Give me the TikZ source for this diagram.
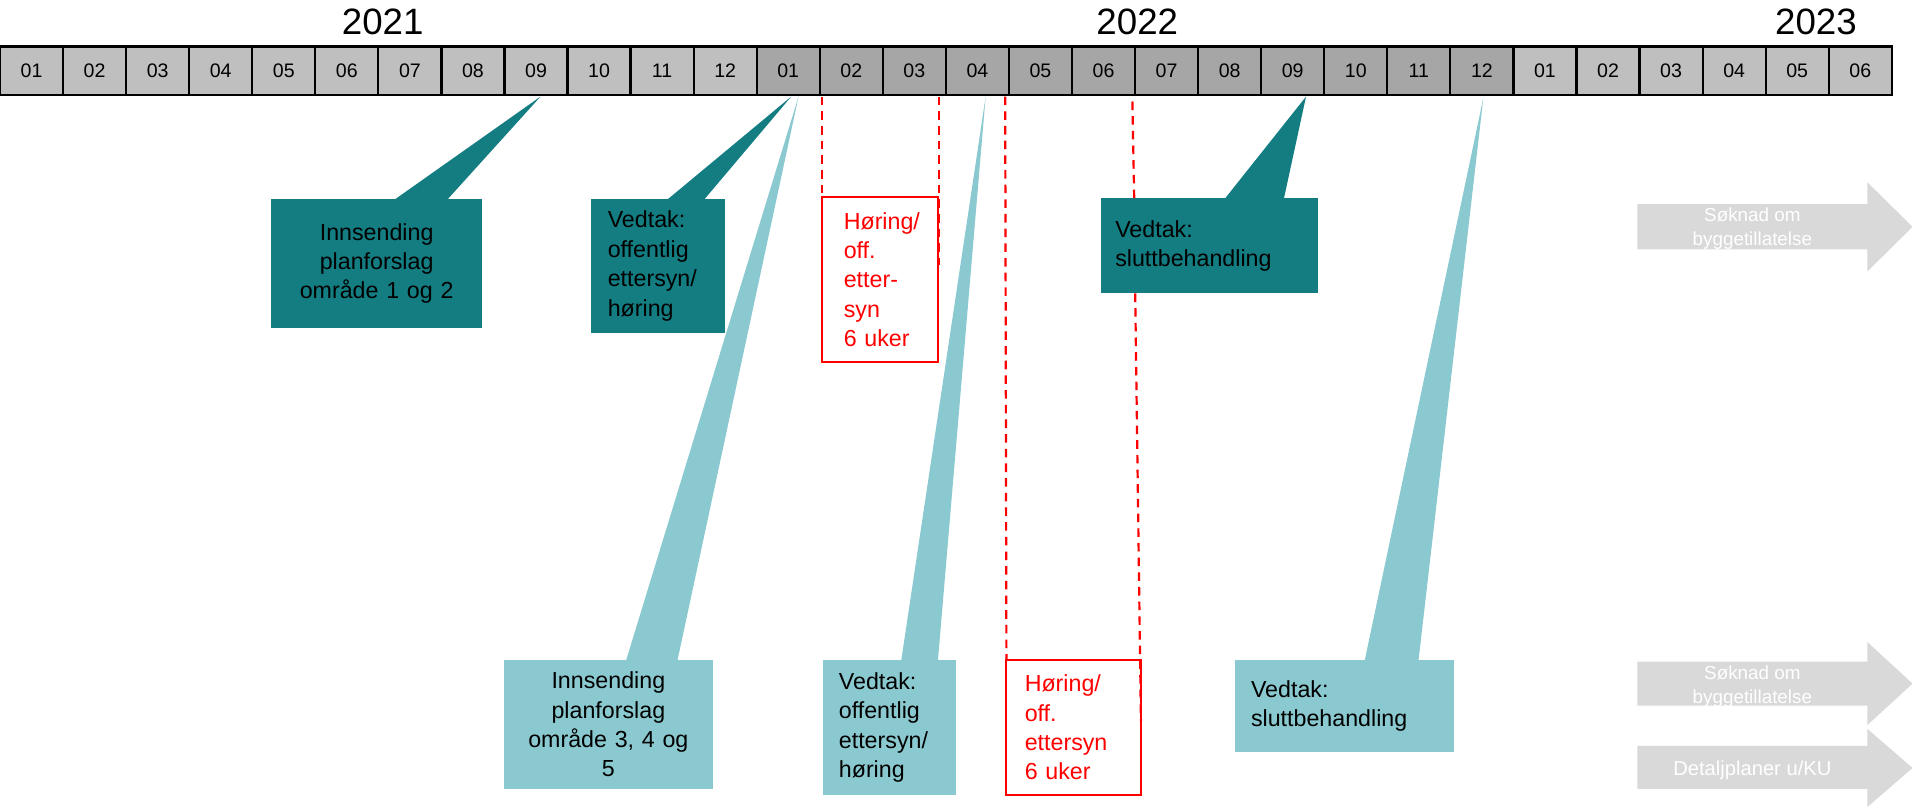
\documentclass[tikz,border=0pt]{standalone}
\usepackage{fontspec}
\setmainfont{Liberation Sans}
\usetikzlibrary{calc}
\definecolor{lightcell}{HTML}{BFBFBF}
\definecolor{darkcell}{HTML}{A6A6A6}
\definecolor{darkteal}{HTML}{137D82}
\definecolor{lightteal}{HTML}{8AC9CF}
\definecolor{arrowgray}{HTML}{D9D9D9}
\definecolor{hred}{HTML}{FF0000}
\tikzset{
  cell/.style={draw=black, line width=1.8pt, minimum width=51.567pt, minimum height=40pt, inner sep=0pt, outer sep=0pt, font=\fontsize{16}{18}\selectfont},
  year/.style={font=\fontsize{30}{34}\selectfont, inner sep=0pt},
  boxtext/.style={font=\fontsize{19}{24}\selectfont, inner ysep=0pt, outer sep=0pt, anchor=north west},
  darkbox/.style={boxtext, fill=darkteal, text=black},
  lightbox/.style={boxtext, fill=lightteal, text=black},
  redbox/.style={boxtext, draw=hred, line width=1.6pt, text=hred},
  reddash/.style={draw=hred, line width=1.8pt, dash pattern=on 7pt off 5pt},
  arrowtext/.style={text=white, font=\fontsize{15.4}{20}\selectfont, inner sep=0pt, anchor=base},
}
\newcommand{\arrowshapeA}{(1339,167) -- (1527,167) -- (1527,149) -- (1564,185.5) -- (1527,222) -- (1527,204) -- (1339,204) -- cycle}
\newcommand{\arrowshapeB}{(1339,541) -- (1527,541) -- (1527,525) -- (1564,559) -- (1527,593) -- (1527,577) -- (1339,577) -- cycle}
\newcommand{\arrowshapeC}{(1339,610) -- (1527,610) -- (1527,596) -- (1564,628) -- (1527,660) -- (1527,645) -- (1339,645) -- cycle}
\begin{document}
\begin{tikzpicture}[x=1pt,y=-1pt]
\useasboundingbox (0,0) rectangle (1566,663);

% years
\node[year] (y2021) at (313,18) {2021};
\node[year] (y2022) at (930,18) {2022};
\node[year] (y2023) at (1485,18) {2023};

% dashed line coordinates
\coordinate (d1a) at (672,79);
\coordinate (d2a) at (768,79);
\coordinate (d2b) at (768,217);
\coordinate (d3a) at (822,79);
\coordinate (d4a) at (926,83);
\coordinate (d4b) at (933,590);

% month cells
\foreach \i/\m in {0/01,1/02,2/03,3/04,4/05,5/06,6/07,7/08,8/09,9/10,10/11,11/12,24/01,25/02,26/03,27/04,28/05,29/06}{
  \node[cell, fill=lightcell] (c\i) at ({\i*51.567+25.783},58) {\m};
}
\foreach \i/\m in {12/01,13/02,14/03,15/04,16/05,17/06,18/07,19/08,20/09,21/10,22/11,23/12}{
  \node[cell, fill=darkcell] (c\i) at ({\i*51.567+25.783},58) {\m};
}

% pointer tips
\coordinate (t1) at (442,79);
\coordinate (t2) at (647,79);
\coordinate (t3) at (653,79);
\coordinate (t4) at (806,79);
\coordinate (t5) at (1068,79);
\coordinate (t6) at (1213,80);

% boxes
\node[darkbox, text width=172pt, inner xsep=0pt, minimum height=105pt, align=center] (b1) at (222,163)
  {Innsending\\planforslag\\område 1 og 2};
\node[darkbox, text width=82pt, inner xsep=14pt, minimum height=109pt, align=left] (b2) at (483,163)
  {Vedtak:\\offentlig\\ettersyn/\\høring};
\node[redbox, text width=59pt, inner xsep=18pt, minimum height=135pt, align=left] (r1) at (672,161)
  {Høring/\\off.\\etter-\\syn\\6 uker};
\node[darkbox, text width=154pt, inner xsep=12pt, minimum height=78pt, align=left] (b3) at (900,162)
  {Vedtak:\\sluttbehandling};
\node[lightbox, text width=171pt, inner xsep=0pt, minimum height=105pt, align=center] (l1) at (412,540)
  {Innsending\\planforslag\\område 3, 4 og\\5};
\node[lightbox, text width=83pt, inner xsep=13pt, minimum height=110pt, align=left] (l2) at (673,540)
  {Vedtak:\\offentlig\\ettersyn/\\høring};
\node[redbox, text width=80pt, inner xsep=15pt, minimum height=110pt, align=left] (r2) at (823,540)
  {Høring/\\off.\\ettersyn\\6 uker};
\node[lightbox, text width=153pt, inner xsep=13pt, minimum height=75pt, align=left] (l3) at (1010,540)
  {Vedtak:\\sluttbehandling};

% pointers
\fill[darkteal] (b1.north west) ++(101,0) -- ++(43,0) -- (t1) -- cycle;
\fill[darkteal] (b2.north west) ++(63,0) -- ++(30,0) -- (t2) -- cycle;
\fill[darkteal] (b3.north west) ++(102,0) -- ++(48,0) -- (t5) -- cycle;
\fill[lightteal] (l1.north west) ++(100,0) -- ++(42,0) -- (t3) -- cycle;
\fill[lightteal] (l2.north west) ++(64,0) -- ++(30,0) -- (t4) -- cycle;
\fill[lightteal] (l3.north west) ++(106,0) -- ++(44,0) -- (t6) -- cycle;

% dashed red lines
\draw[reddash] (d1a) -- (r1.north west);
\draw[reddash] (d2a) -- (d2b);
\draw[reddash] (d3a) -- (r2.north west);
\draw[reddash] (d4a) -- ($(b3.north west)+(27.5,0)$);
\draw[reddash] ($(b3.south west)+(28.3,0)$) -- (d4b);

% grey arrows (text clipped to the arrow shape)
\fill[arrowgray] \arrowshapeA;
\begin{scope}
\clip \arrowshapeA;
\node[arrowtext] (a1a) at (1433,181.5) {Søknad om};
\node[arrowtext] (a1b) at (1433,201) {byggetillatelse};
\end{scope}
\fill[arrowgray] \arrowshapeB;
\begin{scope}
\clip \arrowshapeB;
\node[arrowtext] (a2a) at (1433,555.5) {Søknad om};
\node[arrowtext] (a2b) at (1433,575) {byggetillatelse};
\end{scope}
\fill[arrowgray] \arrowshapeC;
\begin{scope}
\clip \arrowshapeC;
\node[arrowtext, font=\fontsize{16.5}{20}\selectfont] (a3) at (1433,634) {Detaljplaner u/KU};
\end{scope}
\end{tikzpicture}
\end{document}
